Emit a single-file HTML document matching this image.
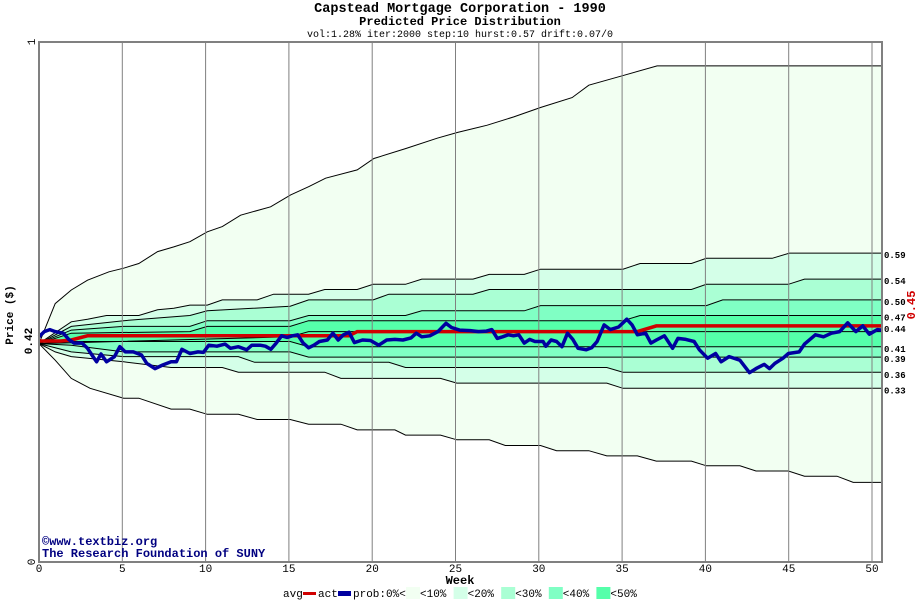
<!DOCTYPE html>
<html><head><meta charset="utf-8"><style>
body{margin:0;background:#fff;}
svg text{font-family:"Liberation Mono",monospace;}
</style></head><body>
<svg id="chart" width="920" height="600" xmlns="http://www.w3.org/2000/svg">
<g>
<text x="460" y="12" text-anchor="middle" font-size="13.5" font-weight="bold">Capstead Mortgage Corporation - 1990</text>
<text x="460" y="25" text-anchor="middle" font-size="12" font-weight="bold">Predicted Price Distribution</text>
<text x="460" y="37" text-anchor="middle" font-size="10">vol:1.28% iter:2000 step:10 hurst:0.57 drift:0.07/0</text>
</g>
<g id="bands"></g>
<g id="grid"></g>
<g id="series"></g>
<g id="axes"></g>
<text x="42" y="545" font-size="12" font-weight="bold" fill="#000080">©www.textbiz.org</text>
<text x="42" y="557" font-size="12" font-weight="bold" fill="#000080">The Research Foundation of SUNY</text>
<text transform="translate(13,315) rotate(-90)" text-anchor="middle" font-size="11" font-weight="bold">Price ($)</text>
<text transform="translate(32,341) rotate(-90)" text-anchor="middle" font-size="11" font-weight="bold">0.42</text>
<text transform="translate(915,305) rotate(-90)" text-anchor="middle" font-size="12" font-weight="bold" fill="#d00000">0.45</text>
<text x="460" y="584" text-anchor="middle" font-size="12" font-weight="bold">Week</text>
<g id="legend"></g>
</svg>
<script>
const xTicks=[0,5,10,15,20,25,30,35,40,45,50];
const yTicks=[0,1];
const rightLabels=[0.59,0.54,0.50,0.47,0.44,0.41,0.39,0.36,0.33];
const outerUpW=[0,0.97,1.94,2.91,4.2,5.08,5.99,7.12,8.09,9.06,10.1,11,12.1,13.9,15.1,16.2,17.2,19.1,20.1,22,23.9,25.1,26.9,28.5,30.1,32,33,35,37.1,50.6];
const outerUpP=[0.42,0.497,0.523,0.542,0.558,0.565,0.574,0.597,0.606,0.616,0.635,0.645,0.667,0.683,0.706,0.722,0.738,0.754,0.776,0.795,0.815,0.826,0.840,0.856,0.874,0.893,0.917,0.935,0.954,0.954];
const outerLoW=[0,0.97,1.94,3.07,5.08,5.99,7.93,9.06,10.1,11.97,13.1,15.08,16.18,18.12,19.1,21.36,22.0,24.1,25.08,27.02,27.99,30.1,31.07,33.0,34.08,35.92,37.05,39.16,40.06,42.07,43.04,44.98,45.95,47.9,48.87,50.6];
const outerLoP=[0.42,0.388,0.353,0.334,0.315,0.315,0.294,0.294,0.284,0.284,0.274,0.274,0.265,0.265,0.254,0.254,0.244,0.244,0.235,0.235,0.224,0.224,0.214,0.214,0.204,0.204,0.194,0.194,0.185,0.185,0.175,0.175,0.165,0.165,0.153,0.153];
const p10UpW=[0,1.94,2.91,4.05,5.99,7.12,8.09,9.06,10.1,11,13.1,14.08,16.18,17.15,19.1,20.06,22,22.98,26.05,27.02,29.13,30.1,35.05,36.08,39.16,40.06,44.01,45.05,50.6];
const p10UpP=[0.42,0.462,0.467,0.474,0.474,0.485,0.488,0.494,0.494,0.504,0.504,0.515,0.515,0.524,0.524,0.534,0.534,0.544,0.544,0.553,0.553,0.563,0.563,0.574,0.574,0.584,0.584,0.594,0.594];
const p10LoW=[0,0.97,1.94,5.08,7.93,11.0,11.97,17.15,18.12,24.1,25.08,34.08,35.05,50.6];
const p10LoP=[0.42,0.404,0.395,0.385,0.374,0.374,0.365,0.365,0.353,0.353,0.344,0.344,0.334,0.334];
const p20UpW=[0,1.94,5.08,9.06,10.1,15.08,16.18,20.06,21.0,26.05,27.02,39.16,40.06,44.98,45.95,50.6];
const p20UpP=[0.42,0.453,0.464,0.474,0.483,0.492,0.504,0.504,0.515,0.515,0.524,0.524,0.534,0.534,0.544,0.544];
const p20LoW=[0,1.94,5.08,11.97,12.94,21.0,22.0,34.08,35.05,50.6];
const p20LoP=[0.42,0.404,0.395,0.395,0.384,0.384,0.374,0.374,0.365,0.365];
const p30UpW=[0,1.94,5.08,9.06,10.1,15.08,16.18,22.0,22.98,29.13,30.1,40.06,41.04,50.6];
const p30UpP=[0.42,0.446,0.453,0.453,0.464,0.464,0.474,0.474,0.483,0.483,0.493,0.493,0.504,0.504];
const p30LoW=[0,1.94,5.08,15.08,16.18,50.6];
const p30LoP=[0.42,0.417,0.404,0.404,0.394,0.394];
const p40UpW=[0,1.94,9.06,10.1,15.08,16.18,35.05,36.08,50.6];
const p40UpP=[0.42,0.440,0.443,0.453,0.453,0.464,0.464,0.474,0.474];
const p40LoW=[0,1.94,15.08,16.18,50.6];
const p40LoP=[0.42,0.424,0.424,0.414,0.414];
const medW=[0,15.08,16.18,50.6];
const medP=[0.42,0.433,0.443,0.443];
const avgW=[0,1.3,1.94,2.91,18.61,19.1,35.92,37.05,50.6];
const avgP=[0.425,0.425,0.427,0.435,0.435,0.443,0.443,0.454,0.454];
const actW=[0,.32,.65,.97,1.46,1.78,2.10,2.59,2.91,3.24,3.46,3.72,4.05,4.53,4.85,5.18,5.66,6.15,6.47,6.96,7.44,7.93,8.25,8.58,9.06,9.55,9.87,10.19,10.68,11.17,11.49,11.97,12.46,12.78,13.27,13.59,13.92,14.24,14.56,14.89,15.21,15.53,15.86,16.18,16.5,16.83,17.31,17.64,17.96,18.28,18.61,18.93,19.42,19.9,20.39,20.87,21.36,21.84,22.33,22.65,22.98,23.46,23.95,24.43,24.76,25.24,25.89,26.38,26.86,27.18,27.51,27.83,28.16,28.48,28.8,29.13,29.45,29.77,30.26,30.42,30.74,31.07,31.39,31.72,32.04,32.36,32.85,33.17,33.5,33.92,34.3,34.79,35.28,35.6,35.92,36.41,36.73,37.06,37.54,38.03,38.35,38.83,39.32,39.64,40.13,40.61,40.94,41.42,42.07,42.65,43.04,43.53,43.85,44.17,44.66,44.98,45.63,45.95,46.6,47.09,47.57,48.06,48.54,49.03,49.45,49.84,50.32,50.6];
const actP=[0.433,0.443,0.447,0.443,0.440,0.428,0.421,0.421,0.411,0.395,0.385,0.400,0.385,0.395,0.414,0.404,0.404,0.398,0.382,0.372,0.379,0.385,0.385,0.409,0.401,0.404,0.403,0.417,0.415,0.419,0.411,0.414,0.408,0.417,0.417,0.415,0.409,0.421,0.435,0.432,0.435,0.437,0.421,0.412,0.417,0.424,0.427,0.440,0.427,0.437,0.442,0.422,0.427,0.426,0.417,0.427,0.428,0.427,0.431,0.440,0.433,0.435,0.443,0.459,0.451,0.446,0.445,0.443,0.444,0.447,0.430,0.433,0.437,0.435,0.437,0.421,0.428,0.424,0.424,0.415,0.427,0.424,0.414,0.440,0.428,0.411,0.408,0.412,0.424,0.456,0.447,0.452,0.467,0.456,0.437,0.440,0.421,0.427,0.435,0.411,0.430,0.428,0.424,0.408,0.392,0.401,0.385,0.395,0.388,0.364,0.372,0.380,0.372,0.382,0.392,0.401,0.404,0.419,0.437,0.433,0.440,0.443,0.460,0.443,0.454,0.438,0.447,0.446];
const legendLabels=["<10%","<20%","<30%","<40%","<50%"];

const NS="http://www.w3.org/2000/svg";
const X0=39,X1=882,Y0=562,Y1=42;
function xs(w){return X0+w*(872-X0)/50;}
function ys(p){return Y0-p*(Y0-Y1);}
function mk(tag,attrs,parent){const e=document.createElementNS(NS,tag);for(const k in attrs)e.setAttribute(k,attrs[k]);parent.appendChild(e);return e;}
function pts(W,P){let s=[];for(let i=0;i<Math.min(W.length,P.length);i++)s.push(xs(W[i]).toFixed(1)+","+ys(P[i]).toFixed(1));return s;}

const bands=document.getElementById('bands');
const bandDefs=[[outerUpW,outerUpP,outerLoW,outerLoP,'#f2fff2'],[p10UpW,p10UpP,p10LoW,p10LoP,'#d4ffe8'],[p20UpW,p20UpP,p20LoW,p20LoP,'#aaffd4'],[p30UpW,p30UpP,p30LoW,p30LoP,'#80ffc4'],[p40UpW,p40UpP,p40LoW,p40LoP,'#55ffaa']];
const bandNames=['band-0-10','band-10-20','band-20-30','band-30-40','band-40-50'];
bandDefs.forEach((b,i)=>{
  const poly=pts(b[0],b[1]).concat(pts(b[2],b[3]).reverse());
  const e=mk('polygon',{points:poly.join(' '),fill:b[4],stroke:'none'},bands);
  
  
});
const lines=[[outerUpW,outerUpP],[outerLoW,outerLoP],[p10UpW,p10UpP],[p10LoW,p10LoP],[p20UpW,p20UpP],[p20LoW,p20LoP],[p30UpW,p30UpP],[p30LoW,p30LoP],[p40UpW,p40UpP],[p40LoW,p40LoP],[medW,medP]];
lines.forEach(l=>{
  const e=mk('polyline',{points:pts(l[0],l[1]).join(' '),fill:'none',stroke:'#000','stroke-width':1},bands);
  
  
});

const grid=document.getElementById('grid');
xTicks.forEach(t=>{
  if(t===0)return;
  const e=mk('line',{x1:xs(t),x2:xs(t),y1:Y1,y2:Y0,stroke:'#808080','stroke-width':1},grid);
  
  
});

const series=document.getElementById('series');
const avg=mk('polyline',{points:pts(avgW,avgP).join(' '),fill:'none',stroke:'#d00000','stroke-width':3.5},series);


const act=mk('polyline',{points:pts(actW,actP).join(' '),fill:'none',stroke:'#0000a0','stroke-width':3.5,'stroke-linejoin':'round'},series);



const axes=document.getElementById('axes');
const frame=mk('path',{d:`M${X0},${Y1}H${X1}V${Y0}H${X0}Z`,fill:'none',stroke:'#808080','stroke-width':2},axes);


xTicks.forEach(t=>{
  const e=mk('text',{x:xs(t),y:572,'text-anchor':'middle','font-size':11},axes);
  e.textContent=t;
  
  
});
yTicks.forEach(t=>{
  const e=mk('text',{transform:`translate(35,${ys(t)}) rotate(-90)`,'text-anchor':'middle','font-size':11},axes);
  e.textContent=t;
  
  
});
rightLabels.forEach(v=>{
  const y=ys(v)+(v===0.44?-4:0);
  const e=mk('text',{x:884,y:y+3,'font-size':9,'font-weight':'bold'},axes);
  e.textContent=v.toFixed(2);
  
  
});

const lg=document.getElementById('legend');
let lx=283;
const t1=mk('text',{x:lx,y:597,'font-size':11},lg);t1.textContent='avg';


const r1=mk('rect',{x:lx+20,y:592,width:13,height:3,fill:'#d00000'},lg);


const t2=mk('text',{x:lx+35,y:597,'font-size':11},lg);t2.textContent='act';


const r2=mk('rect',{x:lx+55,y:591,width:13,height:5,fill:'#0000a0'},lg);


const t3=mk('text',{x:lx+70,y:597,'font-size':11},lg);t3.textContent='prob:0%<';


const cols=['#f2fff2','#d4ffe8','#aaffd4','#80ffc4','#55ffaa'];
legendLabels.forEach((l,i)=>{
  const bx=406+i*47.6;
  const r=mk('rect',{x:bx,y:587,width:14,height:12,fill:cols[i]},lg);
  
  
  const t=mk('text',{x:bx+14,y:597,'font-size':11},lg);t.textContent=l;
  
  
});
</script>
</body></html>
